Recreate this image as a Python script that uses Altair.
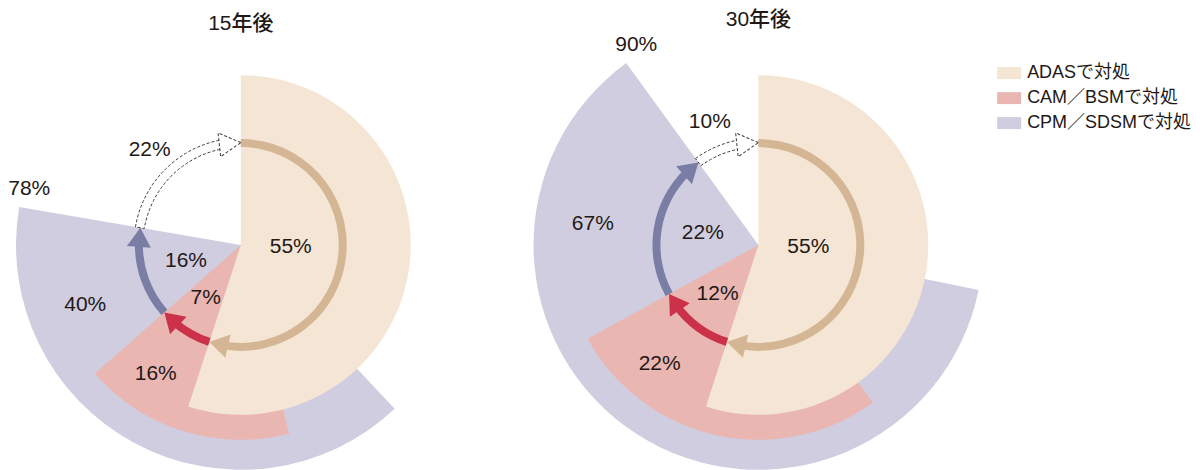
import math
import altair as alt
import pandas as pd

# ---------------- data ----------------
panels = ["15年後", "30年後"]
categories = ["ADASで対処", "CAM／BSMで対処", "CPM／SDSMで対処"]

# wedge extents as drawn, in percent of the full circle (0 = 12 o'clock, clockwise)
wedge_start_15 = [0, 46, 38]
wedge_end_15 = [55, 63.5, 77.7]
wedge_start_30 = [0, 40, 28.2]
wedge_end_30 = [55, 67, 90]

# printed values
inner_15 = [55, 7, 16]      # newly covered share per system
total_15 = [55, 16, 40]     # total share each system can handle
cover_15 = 78               # cumulative coverage
rest_15 = 22                # remaining share

inner_30 = [55, 12, 22]
total_30 = [55, 22, 67]
cover_30 = 90
rest_30 = 10

# ---------------- styles / layout ----------------
FONT = "Liberation Sans, Noto Sans CJK JP"
TXT = "#231815"
wedge_colors = ["#F5E5D4", "#E9B6B1", "#D0CDE0"]
arrow_kinds = ["a", "b", "c"]
arrow_colors = ["#D5B694", "#CB3149", "#7A7EA4"]
WEDGE_R = [170, 195, 225]
RING_R = 102          # arrow centre-line radius
RING_HALF = 4
DASH_IN, DASH_OUT = 98, 107
HEAD_LEN = 19
HEAD_PCT = HEAD_LEN / (2 * math.pi * RING_R) * 100
DHEAD_PCT = 22 / (2 * math.pi * RING_R) * 100
HEAD_PATH = "M0,0L-1.6,-1L-1.6,1Z"
DHEAD_PATH = "M0,0L-1.8,-1L-1.8,1Z"

W, H = 464, 414

theta_scale = alt.Scale(domain=[0, 100], range=[0, 2 * math.pi])
r_scale = alt.Scale(type="linear", domain=[0, 250], range=[0, 250], zero=True)
x_scale = alt.Scale(domain=[-W / 2, W / 2], nice=False, zero=False)
y_scale = alt.Scale(domain=[-H / 2, H / 2], nice=False, zero=False)


def panel(title, starts, ends, inner, total, cover, rest, show_legend):
    # wedges: drawn back to front (CPM, CAM, ADAS)
    wdf = pd.DataFrame({
        "cat": categories[::-1],
        "start": starts[::-1],
        "end": ends[::-1],
        "r": WEDGE_R[::-1],
    })
    legend = alt.Legend(
        title=None, orient="none", legendX=989, legendY=23,
        symbolType="M-1,-0.5H1V0.5H-1Z", symbolSize=576, symbolStrokeWidth=0,
        symbolOpacity=1, labelFont=FONT, labelFontSize=18, labelColor=TXT,
        labelLimit=400, rowPadding=4, labelOffset=6,
    )
    wedges = alt.Chart(wdf).mark_arc(strokeWidth=0).encode(
        theta=alt.Theta("start:Q", scale=theta_scale, stack=None),
        theta2="end:Q",
        radius=alt.Radius("r:Q", scale=r_scale),
        color=alt.Color("cat:N", scale=alt.Scale(domain=categories, range=wedge_colors),
                        legend=legend if show_legend else None),
    )

    # solid arrows between cumulative boundaries
    a_start = [0] + ends[:2]
    a_tip = ends
    bdf = pd.DataFrame({
        "kind": arrow_kinds,
        "s": a_start,
        "e": [t - HEAD_PCT * 0.7 for t in a_tip],
        "ri": RING_R - RING_HALF,
        "ro": RING_R + RING_HALF,
    })
    bodies = alt.Chart(bdf).mark_arc(strokeWidth=0).encode(
        theta=alt.Theta("s:Q", scale=theta_scale, stack=None),
        theta2="e:Q",
        radius=alt.Radius("ro:Q", scale=r_scale),
        radius2="ri:Q",
        fill=alt.Fill("kind:N", scale=alt.Scale(domain=arrow_kinds, range=arrow_colors), legend=None),
    )
    hdf = pd.DataFrame({
        "kind": arrow_kinds,
        "hx": [RING_R * math.sin(t / 100 * 2 * math.pi) for t in a_tip],
        "hy": [RING_R * math.cos(t / 100 * 2 * math.pi) for t in a_tip],
        "ang": [t / 100 * 360 - 5.3 for t in a_tip],
    })
    heads = alt.Chart(hdf).mark_point(shape=HEAD_PATH, size=576, filled=True, opacity=1, strokeWidth=0).encode(
        x=alt.X("hx:Q", scale=x_scale, axis=None),
        y=alt.Y("hy:Q", scale=y_scale, axis=None),
        angle=alt.Angle("ang:Q", scale=None),
        fill=alt.Fill("kind:N", scale=alt.Scale(domain=arrow_kinds, range=arrow_colors), legend=None),
    )

    # dashed hollow arrow for the remaining share
    ddf = pd.DataFrame({"s": [ends[2]], "e": [100 - DHEAD_PCT * 0.9],
                        "ri": [DASH_IN], "ro": [DASH_OUT]})
    dbody = alt.Chart(ddf).mark_arc(filled=False, stroke="#3a3a3a", strokeWidth=1, strokeDash=[3, 2]).encode(
        theta=alt.Theta("s:Q", scale=theta_scale, stack=None),
        theta2="e:Q",
        radius=alt.Radius("ro:Q", scale=r_scale),
        radius2="ri:Q",
    )
    dhdf = pd.DataFrame({"hx": [0.0], "hy": [(DASH_IN + DASH_OUT) / 2], "ang": [-6.0]})
    dhead = alt.Chart(dhdf).mark_point(shape=DHEAD_PATH, size=576, filled=True, fill="white",
                                       stroke="#3a3a3a", strokeWidth=1, strokeDash=[3, 2], opacity=1).encode(
        x=alt.X("hx:Q", scale=x_scale, axis=None),
        y=alt.Y("hy:Q", scale=y_scale, axis=None),
        angle=alt.Angle("ang:Q", scale=None),
    )

    # labels
    def mid(a, b):
        return (a + b) / 2
    ldf = pd.DataFrame({
        "txt": [f"{inner[0]}%", f"{inner[1]}%", f"{inner[2]}%",
                f"{total[1]}%", f"{total[2]}%", f"{rest}%"],
        "lt": [mid(0, ends[0]) - 2, mid(ends[0], ends[1]), mid(ends[1], ends[2]),
               mid(ends[0], ends[1]), mid(ends[1], ends[2]) - 1.5, mid(ends[2], 100) - 1],
        "lr": [50, 64, 57, 155, 167, 132],
    })
    labels = alt.Chart(ldf).mark_text(font=FONT, fontSize=21, color=TXT).encode(
        theta=alt.Theta("lt:Q", scale=theta_scale, stack=None),
        radius=alt.Radius("lr:Q", scale=r_scale),
        text="txt:N",
    )
    cdf = pd.DataFrame({"txt": [f"{cover}%"], "lt": [ends[2]], "lr": [WEDGE_R[2]]})
    cover_lbl = alt.Chart(cdf).mark_text(font=FONT, fontSize=21, color=TXT, dx=10, dy=-18).encode(
        theta=alt.Theta("lt:Q", scale=theta_scale, stack=None),
        radius=alt.Radius("lr:Q", scale=r_scale),
        text="txt:N",
    )

    return alt.layer(wedges, bodies, heads, dbody, dhead, labels, cover_lbl).properties(
        width=W, height=H,
        title=alt.TitleParams(text=title, font=FONT, fontSize=21, fontWeight=500, color=TXT,
                              anchor="middle", offset=4),
    )


p15 = panel(panels[0], wedge_start_15, wedge_end_15, inner_15, total_15, cover_15, rest_15, True)
p30 = panel(panels[1], wedge_start_30, wedge_end_30, inner_30, total_30, cover_30, rest_30, True)

chart = alt.hconcat(p15, p30, spacing=54).properties(
    padding={"left": 0, "top": 0, "right": 0, "bottom": 0}
).configure_view(stroke=None)

chart.save("out.html", embed_options={"renderer": "svg", "actions": False})
